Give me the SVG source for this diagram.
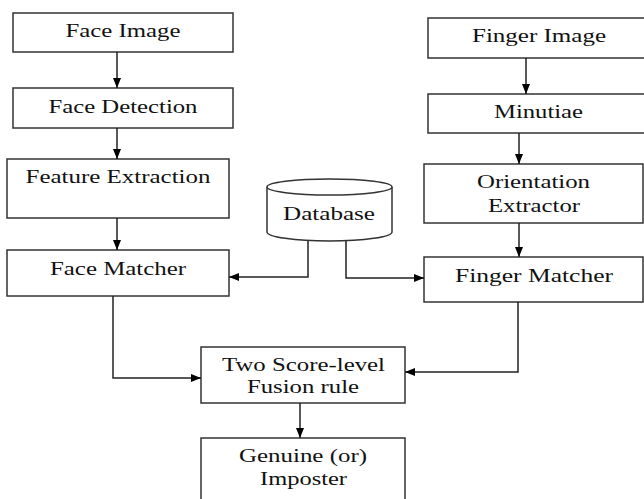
<svg xmlns="http://www.w3.org/2000/svg" width="644" height="499" viewBox="0 0 644 499">
<style>
.box{fill:#fff;stroke:#333;stroke-width:1.5}
.t{font-family:'Liberation Serif','Times New Roman',Times,serif;font-size:19.5px;fill:#111;text-anchor:middle}
.c{fill:none;stroke:#222;stroke-width:1.5;marker-end:url(#ah)}
</style>
<defs>
<marker id="ah" markerUnits="userSpaceOnUse" markerWidth="10" markerHeight="10" refX="10" refY="5" orient="auto">
<path d="M0,1 L10,5 L0,9 z" fill="#000"/>
</marker>
</defs>
<rect width="644" height="499" fill="#fff"/>
<g id="face-image"><rect class="box" x="13" y="13" width="220" height="39"/><text class="t" x="123" y="37" textLength="115" lengthAdjust="spacingAndGlyphs">Face Image</text></g>
<g id="face-detection"><rect class="box" x="13" y="88" width="220" height="40"/><text class="t" x="123" y="113" textLength="149" lengthAdjust="spacingAndGlyphs">Face Detection</text></g>
<g id="feature-extraction"><rect class="box" x="7" y="159" width="222" height="59"/><text class="t" x="118" y="183" textLength="185" lengthAdjust="spacingAndGlyphs">Feature Extraction</text></g>
<g id="face-matcher"><rect class="box" x="7" y="250" width="222" height="46"/><text class="t" x="118" y="275" textLength="136" lengthAdjust="spacingAndGlyphs">Face Matcher</text></g>
<g id="database">
<path class="box" d="M267,187 L267,232 A62.5,9 0 0,0 392,232 L392,187"/>
<path class="box" d="M267,187 A62.5,8 0 0,1 392,187 A62.5,8 0 0,1 267,187 Z"/>
<text class="t" x="329" y="220" textLength="92" lengthAdjust="spacingAndGlyphs">Database</text>
</g>
<g id="finger-image"><rect class="box" x="428" y="18" width="222" height="40"/><text class="t" x="539" y="42" textLength="134" lengthAdjust="spacingAndGlyphs">Finger Image</text></g>
<g id="minutiae"><rect class="box" x="428" y="94" width="222" height="39"/><text class="t" x="538.5" y="118" textLength="89" lengthAdjust="spacingAndGlyphs">Minutiae</text></g>
<g id="orientation-extractor"><rect class="box" x="424" y="164" width="219" height="59"/><text class="t" x="533.5" y="188" textLength="113" lengthAdjust="spacingAndGlyphs">Orientation</text><text class="t" x="534" y="212" textLength="92" lengthAdjust="spacingAndGlyphs">Extractor</text></g>
<g id="finger-matcher"><rect class="box" x="424" y="257" width="219" height="45"/><text class="t" x="534" y="282" textLength="158" lengthAdjust="spacingAndGlyphs">Finger Matcher</text></g>
<g id="fusion"><rect class="box" x="201" y="347" width="204" height="56"/><text class="t" x="303.5" y="371" textLength="163" lengthAdjust="spacingAndGlyphs">Two Score-level</text><text class="t" x="303" y="393" textLength="112" lengthAdjust="spacingAndGlyphs">Fusion rule</text></g>
<g id="decision"><rect class="box" x="201" y="438" width="204" height="70"/><text class="t" x="303" y="462" textLength="128" lengthAdjust="spacingAndGlyphs">Genuine (or)</text><text class="t" x="303.5" y="485" textLength="87" lengthAdjust="spacingAndGlyphs">Imposter</text></g>
<g id="connectors">
<path class="c" d="M117,52 L117,88"/>
<path class="c" d="M117,128 L117,159"/>
<path class="c" d="M117,218 L117,250"/>
<path class="c" d="M526,58 L526,94"/>
<path class="c" d="M519,133 L519,164"/>
<path class="c" d="M519,223 L519,257"/>
<path class="c" d="M308,241 L308,277 L229,277"/>
<path class="c" d="M346,241 L346,278 L424,278"/>
<path class="c" d="M113,296 L113,378 L201,378"/>
<path class="c" d="M518,302 L518,372 L405,372"/>
<path class="c" d="M300,403 L300,438"/>
</g>
</svg>
